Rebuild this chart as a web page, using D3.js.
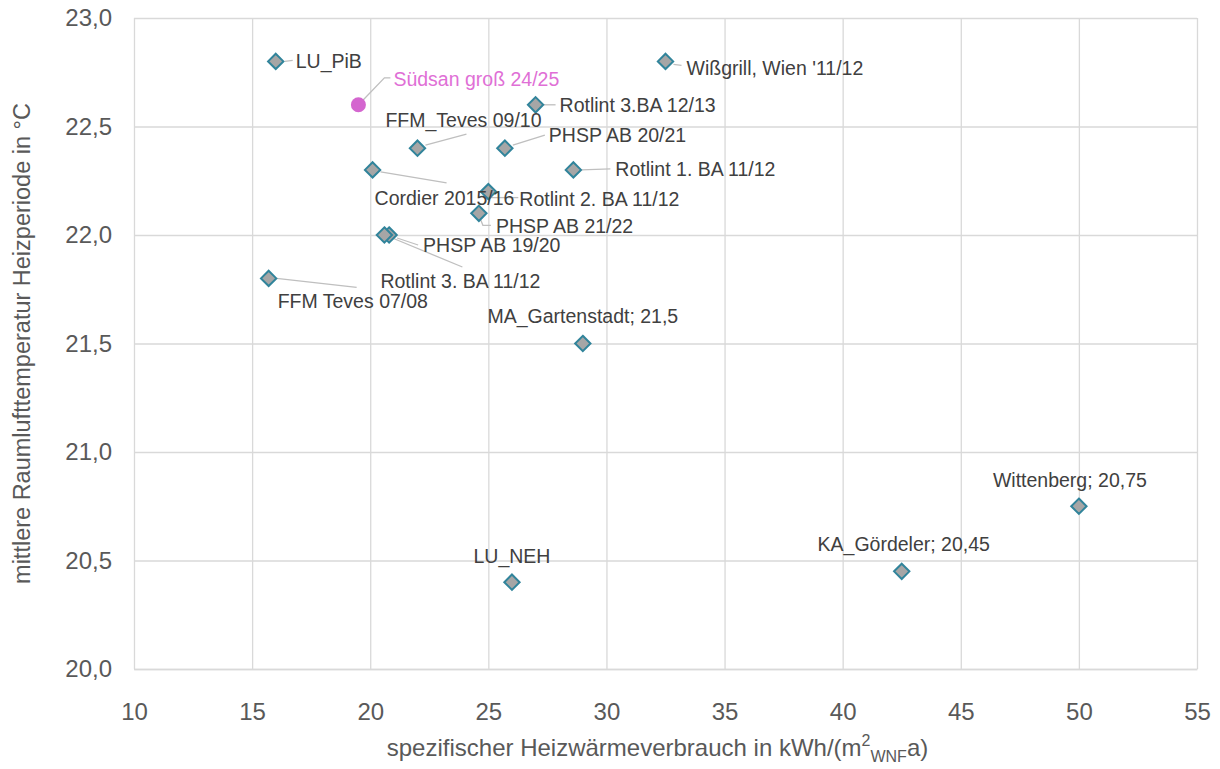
<!DOCTYPE html>
<html>
<head>
<meta charset="utf-8">
<script src="https://cdn.jsdelivr.net/npm/d3@7"></script>
<style>
  body { margin: 0; background: #fff; }
  svg { font-family: "Liberation Sans", Arial, sans-serif; }
</style>
</head>
<body>
<div id="app"></div>
<script>
// data
var names = ["LU_PiB", "Südsan groß 24/25", "FFM_Teves 09/10", "Cordier 2015/16", "Rotlint 3.BA 12/13",
  "PHSP AB 20/21", "Rotlint 1. BA 11/12", "Rotlint 2. BA 11/12", "PHSP AB 21/22", "PHSP AB 19/20",
  "Rotlint 3. BA 11/12", "FFM Teves 07/08", "MA_Gartenstadt; 21,5", "Wißgrill, Wien '11/12",
  "Wittenberg; 20,75", "KA_Gördeler; 20,45", "LU_NEH"];
var heat = [16.0, 19.5, 22.0, 20.1, 27.0, 25.7, 28.6, 25.0, 24.6, 20.8, 20.6, 15.7, 29.0, 32.5, 50.0, 42.5, 26.0];
var temp = [22.8, 22.6, 22.4, 22.3, 22.6, 22.4, 22.3, 22.2, 22.1, 22.0, 22.0, 21.8, 21.5, 22.8, 20.75, 20.45, 20.4];
var highlight = "Südsan groß 24/25";
var xTicks = [10, 15, 20, 25, 30, 35, 40, 45, 50, 55];
var yTicks = [20.0, 20.5, 21.0, 21.5, 22.0, 22.5, 23.0];

// label placement: text offset from marker, anchor, leader line points (all relative to marker)
var labelPos = {
  "LU_PiB": {dx: 20, dy: 0, anchor: "start", line: [[9, 0], [17, -1]]},
  "Südsan groß 24/25": {dx: 35, dy: -26, anchor: "start", line: [[4, -4], [26, -27], [32, -27]]},
  "FFM_Teves 09/10": {dx: -32, dy: -28, anchor: "start", line: [[8, -3], [49, -14]]},
  "Cordier 2015/16": {dx: 2, dy: 28, anchor: "start", line: [[8, 2], [74, 13]]},
  "Rotlint 3.BA 12/13": {dx: 24, dy: 0, anchor: "start", line: [[8, 0], [20, 0]]},
  "PHSP AB 20/21": {dx: 44, dy: -13, anchor: "start", line: [[8, -3], [40, -13]]},
  "Rotlint 1. BA 11/12": {dx: 42, dy: -1, anchor: "start", line: [[8, 0], [37, -1]]},
  "Rotlint 2. BA 11/12": {dx: 31, dy: 8, anchor: "start", line: [[0, 6], [30, 6]]},
  "PHSP AB 21/22": {dx: 17, dy: 13, anchor: "start", line: [[2, 7], [4, 12], [12, 12]]},
  "PHSP AB 19/20": {dx: 34, dy: 10, anchor: "start", line: [[8, 3], [29, 10]]},
  "Rotlint 3. BA 11/12": {dx: -4, dy: 46, anchor: "start", line: [[8, 3], [78, 32]]},
  "FFM Teves 07/08": {dx: 9, dy: 23, anchor: "start", line: [[8, 0], [88, 9]]},
  "MA_Gartenstadt; 21,5": {dx: 0, dy: -27, anchor: "middle", line: []},
  "Wißgrill, Wien '11/12": {dx: 21, dy: 7, anchor: "start", line: [[8, 3], [16, 4]]},
  "Wittenberg; 20,75": {dx: -9, dy: -26, anchor: "middle", line: []},
  "KA_Gördeler; 20,45": {dx: 2, dy: -27, anchor: "middle", line: []},
  "LU_NEH": {dx: 0, dy: -26, anchor: "middle", line: []}
};

var W = 1220, H = 769;
var margin = {top: 18, right: 23, bottom: 100, left: 134},
    width = W - margin.left - margin.right,
    height = H - margin.top - margin.bottom;

var x = d3.scaleLinear().domain([10, 55]).range([0, width]);
var y = d3.scaleLinear().domain([20, 23]).range([height, 0]);
var fmtY = function(d) { return d3.format(".1f")(d).replace(".", ","); };

var svg = d3.select("#app").append("svg")
    .attr("width", W)
    .attr("height", H)
  .append("g")
    .attr("transform", "translate(" + margin.left + "," + margin.top + ")");

// grid
svg.append("g")
    .attr("class", "grid")
    .call(d3.axisLeft(y).tickValues(yTicks).tickSize(-width).tickFormat(function() { return null; }))
    .call(function(g) { g.select(".domain").remove(); })
    .selectAll("line").attr("stroke", "#d9d9d9").attr("stroke-width", 1.3);

svg.append("g")
    .attr("class", "grid")
    .attr("transform", "translate(0," + height + ")")
    .call(d3.axisBottom(x).tickValues(xTicks).tickSize(-height).tickFormat(function() { return null; }))
    .call(function(g) { g.select(".domain").remove(); })
    .selectAll("line").attr("stroke", "#d9d9d9").attr("stroke-width", 1.3);

// axes (labels only)
var yAxis = svg.append("g")
    .call(d3.axisLeft(y).tickValues(yTicks).tickSize(0).tickPadding(22).tickFormat(fmtY));
yAxis.select(".domain").remove();
yAxis.selectAll("text").attr("font-size", 24).attr("fill", "#595959")
    .attr("font-family", "Liberation Sans, Arial, sans-serif");

var xAxis = svg.append("g")
    .attr("transform", "translate(0," + height + ")")
    .call(d3.axisBottom(x).tickValues(xTicks).tickSize(0).tickPadding(34).tickFormat(d3.format("d")));
xAxis.select(".domain").attr("stroke", "#d9d9d9").attr("stroke-width", 1.3);
xAxis.selectAll("text").attr("font-size", 24).attr("fill", "#595959")
    .attr("font-family", "Liberation Sans, Arial, sans-serif");

// axis titles
svg.append("text")
    .attr("transform", "translate(" + (-112) + "," + (height / 2) + ") rotate(-90)")
    .attr("text-anchor", "middle")
    .attr("dy", "0.35em")
    .attr("font-size", 23.5)
    .attr("fill", "#595959")
    .text("mittlere Raumlufttemperatur Heizperiode in °C");

var xt = svg.append("text")
    .attr("x", width / 2 - 8)
    .attr("y", height + 87)
    .attr("text-anchor", "middle")
    .attr("font-size", 24)
    .attr("fill", "#595959");
xt.append("tspan").text("spezifischer Heizwärmeverbrauch in kWh/(m");
xt.append("tspan").attr("font-size", 16).attr("dy", -10).text("2");
xt.append("tspan").attr("font-size", 16).attr("dy", 16).text("WNF");
xt.append("tspan").attr("dy", -6).text("a)");

var pts = names.map(function(n, i) { return {name: n, x: heat[i], y: temp[i]}; });

// leader lines
var line = d3.line();
svg.append("g").selectAll("path")
  .data(pts.filter(function(d) { return labelPos[d.name].line.length; }))
  .join("path")
    .attr("fill", "none")
    .attr("stroke", "#bfbfbf")
    .attr("stroke-width", 1.3)
    .attr("d", function(d) {
      var px = x(d.x), py = y(d.y);
      return line(labelPos[d.name].line.map(function(p) { return [px + p[0], py + p[1]]; }));
    });

// markers
var diamond = d3.symbol().type(d3.symbolDiamond2).size(150);
svg.append("g").selectAll("path")
  .data(pts.filter(function(d) { return d.name !== highlight; }))
  .join("path")
    .attr("transform", function(d) { return "translate(" + x(d.x) + "," + y(d.y) + ")"; })
    .attr("d", diamond)
    .attr("fill", "#a6a6a6")
    .attr("stroke", "#31849b")
    .attr("stroke-width", 2);

svg.append("g").selectAll("circle")
  .data(pts.filter(function(d) { return d.name === highlight; }))
  .join("circle")
    .attr("cx", function(d) { return x(d.x); })
    .attr("cy", function(d) { return y(d.y); })
    .attr("r", 7.5)
    .attr("fill", "#d466cf");

// labels
svg.append("g").selectAll("text")
  .data(pts)
  .join("text")
    .attr("x", function(d) { return x(d.x) + labelPos[d.name].dx; })
    .attr("y", function(d) { return y(d.y) + labelPos[d.name].dy; })
    .attr("dy", "0.35em")
    .attr("text-anchor", function(d) { return labelPos[d.name].anchor; })
    .attr("font-size", 19.5)
    .attr("fill", function(d) { return d.name === highlight ? "#e06fd6" : "#404040"; })
    .text(function(d) { return d.name; });
</script>
</body>
</html>
